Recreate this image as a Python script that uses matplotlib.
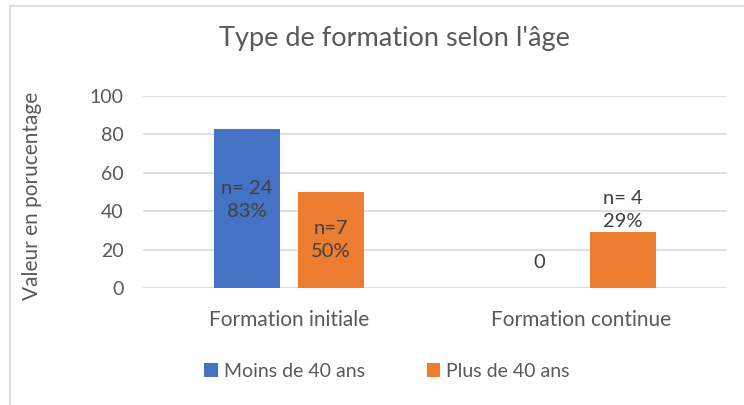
import numpy as np
import matplotlib.pyplot as plt
from matplotlib.patches import Rectangle

# data
categories = ["Formation initiale", "Formation continue"]
series_names = ["Moins de 40 ans", "Plus de 40 ans"]
moins_40 = [83, 0]
plus_40 = [50, 29]
labels_moins = ["n= 24\n83%", "0"]
labels_plus = ["n=7\n50%", "n= 4\n29%"]
yticks = [0, 20, 40, 60, 80, 100]

plt.rcParams['font.family'] = ['Lato', 'DejaVu Sans']
grey = "#595959"
dark = "#404040"
blue = "#4472C4"
orange = "#ED7D31"

fig = plt.figure(figsize=(7.44, 4.05), dpi=100)
ax = fig.add_axes([0.192, 0.289, 0.785, 0.474])

x = np.arange(len(categories))
w = 0.226
off = 0.144
b1 = ax.bar(x - off, moins_40, w, color=blue, zorder=3, label=series_names[0])
b2 = ax.bar(x + off, plus_40, w, color=orange, zorder=3, label=series_names[1])

# data labels
for i in range(len(categories)):
    v = moins_40[i]
    if v > 0:
        ax.text(x[i] - off, v * 0.55, labels_moins[i], ha="center", va="center",
                fontsize=14.5, color=dark, linespacing=1.45, zorder=4)
    else:
        ax.text(x[i] - off, 13, labels_moins[i], ha="center", va="center",
                fontsize=14.5, color=dark, zorder=4)
    v = plus_40[i]
    if v >= 40:
        ax.text(x[i] + off, v * 0.5, labels_plus[i], ha="center", va="center",
                fontsize=14.5, color=dark, linespacing=1.45, zorder=4)
    else:
        ax.text(x[i] + off, v + 1.0, labels_plus[i], ha="center", va="bottom",
                fontsize=14.5, color=dark, linespacing=1.45, zorder=4)

ax.set_xlim(-0.5, 1.5)
ax.set_ylim(0, 100)
ax.set_yticks(yticks)
ax.set_xticks(x)
ax.set_xticklabels(categories)
ax.tick_params(axis="both", length=0, colors=grey)
ax.tick_params(axis="x", pad=16, labelsize=15)
ax.tick_params(axis="y", pad=14, labelsize=14)
ax.grid(axis="y", color="#D9D9D9", linewidth=1.2, zorder=0)
for s in ax.spines.values():
    s.set_visible(False)

ax.set_ylabel("Valeur en porucentage", fontsize=15, color=grey)
ax.yaxis.set_label_coords(-0.172, 0.48)
fig.text(0.53, 0.905, "Type de formation selon l'âge", ha="center", va="center",
         fontsize=19.5, color=grey)

fig.legend(handles=[b1, b2], loc="center", bbox_to_anchor=(0.52, 0.083), ncol=2,
           frameon=False, fontsize=14, handlelength=0.7, handleheight=0.7,
           handletextpad=0.3, columnspacing=3.2, labelcolor=grey)

# outer chart border
fig.add_artist(Rectangle((10 / 744, -0.1), 1.2, 1.0 - 6 / 405 + 0.1,
                         transform=fig.transFigure, fill=False,
                         edgecolor="#D9D9D9", linewidth=1.2))

plt.savefig("out.png", dpi=100)
